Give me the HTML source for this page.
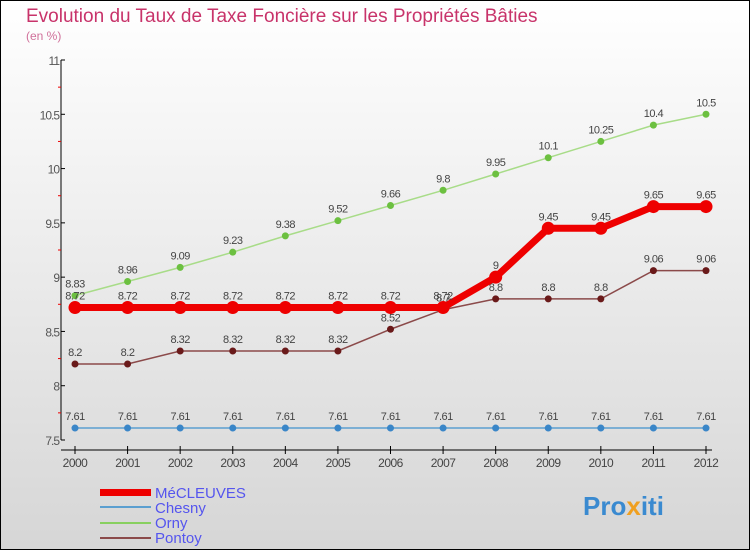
<!DOCTYPE html>
<html><head><meta charset="utf-8"><style>
body{margin:0}
svg{display:block;font-family:"Liberation Sans",sans-serif}
</style></head><body>
<svg width="750" height="550" viewBox="0 0 750 550">
<defs><linearGradient id="bg" x1="0" y1="0" x2="0" y2="1"><stop offset="0" stop-color="#ffffff"/><stop offset="1" stop-color="#d6d6d6"/></linearGradient></defs>
<rect x="0.5" y="0.5" width="749" height="549" fill="url(#bg)" stroke="#000"/>
<text x="26" y="22" font-size="19" fill="#c8336a">Evolution du Taux de Taxe Foncière sur les Propriétés Bâties</text>
<text x="26" y="40" font-size="12" fill="#d0709a">(en %)</text>
<g id="axes"></g>
<g id="series"></g>
<g>
<rect x="100" y="489" width="51" height="7" fill="#e00"/>
<text x="155" y="498" font-size="15" fill="#5555ee">MéCLEUVES</text>
<rect x="100" y="506" width="51" height="2" fill="#5b9fd0"/>
<text x="155" y="513" font-size="15" fill="#5555ee">Chesny</text>
<rect x="100" y="522" width="51" height="2" fill="#88d060"/>
<text x="155" y="528" font-size="15" fill="#5555ee">Orny</text>
<rect x="100" y="537" width="51" height="2" fill="#8b4a4a"/>
<text x="155" y="543" font-size="15" fill="#5555ee">Pontoy</text>
</g>
<text x="583" y="515" font-size="26" font-weight="bold" fill="#3a8ad0">Pro<tspan fill="#f0a020">x</tspan>iti</text>
</svg>
<script>
const years=[2000,2001,2002,2003,2004,2005,2006,2007,2008,2009,2010,2011,2012];
const yTicks=[7.5,8,8.5,9,9.5,10,10.5,11];
const mecleuves=[8.72,8.72,8.72,8.72,8.72,8.72,8.72,8.72,9,9.45,9.45,9.65,9.65];
const chesny=[7.61,7.61,7.61,7.61,7.61,7.61,7.61,7.61,7.61,7.61,7.61,7.61,7.61];
const orny=[8.83,8.96,9.09,9.23,9.38,9.52,9.66,9.8,9.95,10.1,10.25,10.4,10.5];
const pontoy=[8.2,8.2,8.32,8.32,8.32,8.32,8.52,8.7,8.8,8.8,8.8,9.06,9.06];
const NS='http://www.w3.org/2000/svg';
const xS=i=>75+i*(706-75)/(years.length-1);
const yS=v=>440-(v-7.5)*(380/3.5);
function mk(t,a,p){const e=document.createElementNS(NS,t);for(const k in a)e.setAttribute(k,a[k]);p.appendChild(e);return e;}
const ax=document.getElementById('axes');
const yl=mk('line',{x1:61,y1:60,x2:61,y2:440,stroke:'#000'},ax);


const xl=mk('line',{x1:61,y1:450,x2:712,y2:450,stroke:'#000'},ax);


yTicks.forEach((v,i)=>{
  const y=yS(v);
  mk('line',{x1:61,y1:y,x2:65,y2:y,stroke:'#000'},ax);
  const t=mk('text',{x:59,y:y+5,'font-size':12,fill:'#555','text-anchor':'end','letter-spacing':'-1'},ax);
  t.textContent=String(v);
  
  
  if(i<yTicks.length-1){const ym=yS(v+0.25);mk('line',{x1:58,y1:ym,x2:61,y2:ym,stroke:'#e00'},ax);}
});
years.forEach((yr,i)=>{
  const x=xS(i);
  mk('line',{x1:x,y1:446,x2:x,y2:454,stroke:'#000'},ax);
  const t=mk('text',{x:x,y:467,'font-size':12,fill:'#444','text-anchor':'middle','letter-spacing':'-0.5'},ax);
  t.textContent=yr;
  
  
});
const sg=document.getElementById('series');
function draw(vals,name,color,w,r,dot){
  const g=mk('g',{},sg);
  
  
  const pl=mk('polyline',{points:vals.map((v,i)=>xS(i)+','+yS(v)).join(' '),fill:'none',stroke:color,'stroke-width':w},g);
  
  
  vals.forEach((v,i)=>{
    const c=mk('circle',{cx:xS(i),cy:yS(v),r:r,fill:dot},g);
    
    
    const t=mk('text',{x:xS(i),y:yS(v)-8,'font-size':11,fill:'#444','text-anchor':'middle','letter-spacing':'-0.5'},g);
    t.textContent=String(v);
    
    
  });
}
draw(chesny,'chesny','#5b9fd0',1.5,3.5,'#3a86c8');
draw(orny,'orny','#a8dc88',1.5,3.5,'#6cc040');
draw(pontoy,'pontoy','#8b4a4a',1.5,3.5,'#6a1a1a');
draw(mecleuves,'mecleuves','#e00',7,6.5,'#e00');
</script>
</body></html>
